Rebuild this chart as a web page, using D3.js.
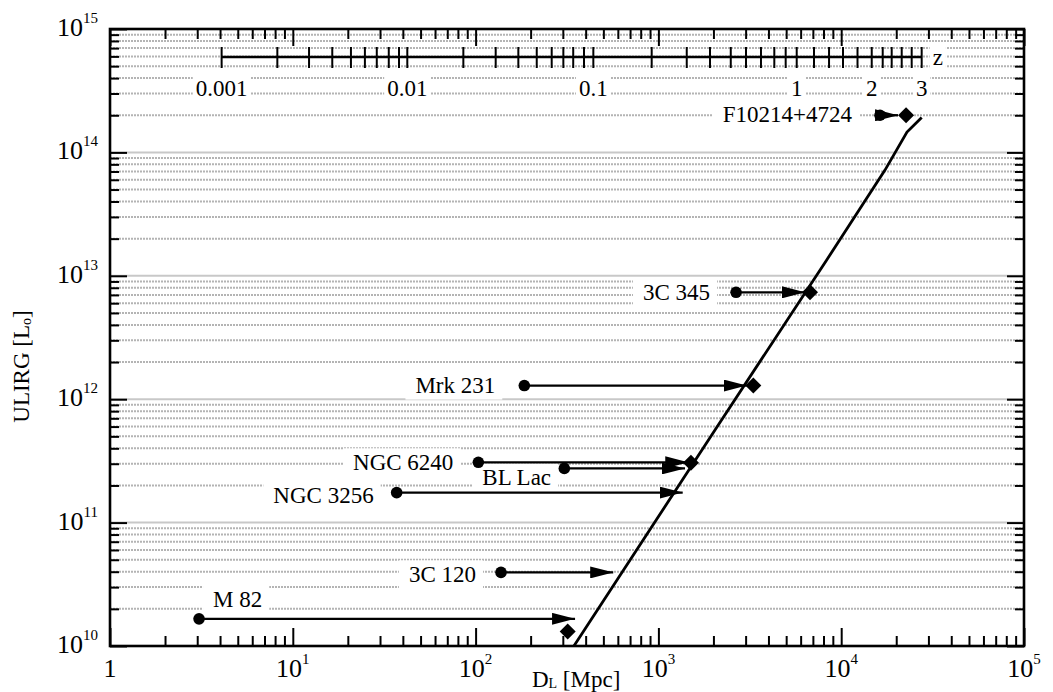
<!DOCTYPE html>
<html>
<head>
<meta charset="utf-8">
<script src="https://cdn.jsdelivr.net/npm/d3@7"></script>
<style>
body { margin: 0; background: #fff; }
svg text { font-family: "Liberation Serif", "Times New Roman", serif; fill: #000; }
</style>
</head>
<body>
<svg id="chart"></svg>
<script>
// objects: observed distance -> distance where they'd still be seen
var names = ['M 82', '3C 120', 'NGC 3256', 'NGC 6240', 'BL Lac', 'Mrk 231', '3C 345', 'F10214+4724'];
var lumObs = [1.66e10, 3.95e10, 1.75e11, 3.08e11, 2.75e11, 1.29e12, 7.35e12, 2.0e14];
var distObs = [3.07, 137.7, 37.0, 103.5, 305.7, 184.7, 2660, 16300];
var distArrow = [350, 566, 1358, 1457, 1398, 3041, 6340, 20460];
var distDiamond = [319, null, null, 1507, null, 3305, 6750, 22630];
var lumDiamond = [1.31e10, null, null, 3.06e11, null, 1.29e12, 7.35e12, 2.0e14];

// detection limit curve
var curveDist = [345, 2040, 8330, 17360, 22900, 27560];
var curveLum = [1.0e10, 5.63e11, 1.343e13, 7.19e13, 1.46e14, 1.92e14];

// redshift ruler (z and the D_L it sits at)
var zTicks = [0.001, 0.002, 0.003, 0.004, 0.005, 0.006, 0.007, 0.008, 0.009,
    0.01, 0.02, 0.03, 0.04, 0.05, 0.06, 0.07, 0.08, 0.09,
    0.1, 0.2, 0.3, 0.4, 0.5, 0.6, 0.7, 0.8, 0.9,
    1.0, 1.2, 1.4, 1.6, 1.8, 2.0, 2.2, 2.4, 2.6, 2.8, 3.0];
var zDist = [4.08, 8.23, 12.27, 16.44, 20.8, 24.8, 28.8, 33.5, 38.1,
    42.3, 85.7, 128.8, 171.3, 216, 260.8, 302, 342, 391.7,
    440.6, 919, 1429, 1915, 2488, 3015, 3640, 4306, 4969,
    5710, 7100, 8580, 10230, 12280, 14690, 16870, 18890, 21430, 24300, 27560];
var zLabels = ['0.001', '0.01', '0.1', '1', '2', '3'];

// label placement relative to the filled circle: [dx, dy, anchor]
var labelLayout = [[14, -12, 'start'], [-25, 10, 'end'], [-23, 10, 'end'], [-25, 8, 'end'],
    [-82, 17, 'start'], [-29, 7, 'end'], [-26, 8, 'end'], [-28, 7, 'end']];

var W = 1053, H = 692;
var margin = { top: 29, right: 29, bottom: 46, left: 110 };
var iw = W - margin.left - margin.right;
var ih = H - margin.top - margin.bottom;

var svg = d3.select('#chart').attr('width', W).attr('height', H);
var g = svg.append('g').attr('transform', `translate(${margin.left},${margin.top})`);

var x = d3.scaleLog().domain([1, 1e5]).range([0, iw]);
var y = d3.scaleLog().domain([1e10, 1e15]).range([ih, 0]);

var xMajor = d3.range(0, 6).map(e => Math.pow(10, e));
var yMajor = d3.range(10, 16).map(e => Math.pow(10, e));
var xMinor = [], yMinor = [];
for (let e = 0; e < 5; e++) for (let m = 2; m < 10; m++) xMinor.push(m * Math.pow(10, e));
for (let e = 10; e < 15; e++) for (let m = 2; m < 10; m++) yMinor.push(m * Math.pow(10, e));

// horizontal grid
var grid = g.append('g');
grid.selectAll('line.minor').data(yMinor).join('line')
    .attr('class', 'minor')
    .attr('x1', 0).attr('x2', iw)
    .attr('y1', d => y(d)).attr('y2', d => y(d))
    .attr('stroke', '#b4b4b4').attr('stroke-width', 2).attr('stroke-dasharray', '2,1');
grid.selectAll('line.major').data(yMajor.slice(1, 5)).join('line')
    .attr('class', 'major')
    .attr('x1', 0).attr('x2', iw)
    .attr('y1', d => y(d)).attr('y2', d => y(d))
    .attr('stroke', '#c8c8c8').attr('stroke-width', 2);

function withBox(sel, padL, padR, padV) {
    sel.each(function () {
        var b = this.getBBox();
        d3.select(this.parentNode).insert('rect', () => this)
            .attr('x', b.x - padL).attr('y', b.y - padV)
            .attr('width', b.width + padL + padR).attr('height', b.height + 2 * padV)
            .attr('fill', '#fff');
    });
}

// redshift ruler
var zY = 28;
var zg = g.append('g');
zg.append('line')
    .attr('x1', x(zDist[0])).attr('x2', x(zDist[zDist.length - 1]))
    .attr('y1', zY).attr('y2', zY)
    .attr('stroke', '#000').attr('stroke-width', 2.5);
zg.selectAll('line.zt').data(zDist).join('line')
    .attr('class', 'zt')
    .attr('x1', d => x(d)).attr('x2', d => x(d))
    .attr('y1', zY - 10).attr('y2', zY + 11)
    .attr('stroke', '#000').attr('stroke-width', 2);
zLabels.forEach(function (lab) {
    var i = zTicks.indexOf(+lab);
    var lg = zg.append('g');
    lg.append('text')
        .attr('x', x(zDist[i])).attr('y', zY + 39)
        .attr('text-anchor', 'middle').attr('font-size', 23)
        .text(lab)
        .call(withBox, 3, 3, 0);
});
var zl = zg.append('g');
zl.append('text')
    .attr('x', x(zDist[zDist.length - 1]) + 11).attr('y', zY + 8)
    .attr('font-size', 23).text('z')
    .call(withBox, 3, 3, 0);

// object labels
var labels = g.append('g');
names.forEach(function (n, i) {
    var lo = labelLayout[i];
    labels.append('g').append('text')
        .attr('x', x(distObs[i]) + lo[0]).attr('y', y(lumObs[i]) + lo[1])
        .attr('text-anchor', lo[2]).attr('font-size', 23)
        .text(n)
        .call(withBox, 10, 7, 2);
});

// limit curve
var curve = curveDist.map((d, i) => [d, curveLum[i]]);
g.append('path')
    .attr('d', d3.line().x(d => x(d[0])).y(d => y(d[1]))(curve))
    .attr('fill', 'none').attr('stroke', '#000').attr('stroke-width', 2.8);

// arrows
svg.append('defs').append('marker')
    .attr('id', 'head').attr('markerUnits', 'userSpaceOnUse')
    .attr('viewBox', '0 -6 23 12').attr('refX', 23).attr('refY', 0)
    .attr('markerWidth', 23).attr('markerHeight', 12).attr('orient', 'auto')
    .append('path').attr('d', 'M0,-6L23,0L0,6Z').attr('fill', '#000');

g.append('g').selectAll('line').data(names).join('line')
    .attr('x1', (d, i) => x(distObs[i])).attr('x2', (d, i) => x(distArrow[i]))
    .attr('y1', (d, i) => y(lumObs[i])).attr('y2', (d, i) => y(lumObs[i]))
    .attr('stroke', '#000').attr('stroke-width', 2.3)
    .attr('marker-end', 'url(#head)');

g.append('g').selectAll('circle').data(names).join('circle')
    .attr('cx', (d, i) => x(distObs[i])).attr('cy', (d, i) => y(lumObs[i]))
    .attr('r', 5.8).attr('fill', '#000');

var diamonds = distDiamond.map((d, i) => [d, lumDiamond[i]]).filter(d => d[0] !== null);
g.append('g').selectAll('path').data(diamonds).join('path')
    .attr('d', d3.symbol(d3.symbolSquare, 128))
    .attr('transform', d => `translate(${x(d[0])},${y(d[1])}) rotate(45)`)
    .attr('fill', '#000');

// axes (ticks point inwards)
function tickAxis(axis, scale, vals, size) {
    return axis(scale).tickValues(vals).tickSize(size).tickSizeOuter(0).tickFormat('');
}
var axes = g.append('g');
[[d3.axisBottom, 'translate(0,' + ih + ')', x, -18, -10],
 [d3.axisTop, 'translate(0,0)', x, -17, -10],
 [d3.axisLeft, 'translate(0,0)', y, -17, -9],
 [d3.axisRight, 'translate(' + iw + ',0)', y, -17, -9]].forEach(function (a) {
    var isX = a[2] === x;
    var maj = axes.append('g').attr('transform', a[1]).call(tickAxis(a[0], a[2], isX ? xMajor : yMajor, a[3]));
    var min = axes.append('g').attr('transform', a[1]).call(tickAxis(a[0], a[2], isX ? xMinor : yMinor, a[4]));
    [maj, min].forEach(s => {
        s.select('.domain').remove();
        s.selectAll('line').attr('stroke', '#000').attr('stroke-width', 2);
    });
});
axes.append('rect')
    .attr('width', iw).attr('height', ih)
    .attr('fill', 'none').attr('stroke', '#000').attr('stroke-width', 2.6);

// tick labels
yMajor.forEach(function (v) {
    var t = axes.append('text')
        .attr('x', -12).attr('y', y(v) + 7)
        .attr('text-anchor', 'end').attr('font-size', 26);
    t.append('tspan').text('10');
    t.append('tspan').attr('dy', -13).attr('font-size', 15).text(Math.round(Math.log10(v)));
});
xMajor.forEach(function (v) {
    var e = Math.round(Math.log10(v));
    var t = axes.append('text')
        .attr('x', x(v)).attr('y', ih + 31)
        .attr('text-anchor', 'middle').attr('font-size', 26);
    if (e === 0) { t.text('1'); return; }
    t.append('tspan').text('10');
    t.append('tspan').attr('dy', -13).attr('font-size', 15).text(e);
});

// axis titles
var xt = axes.append('text')
    .attr('x', x(10 ** 2.55)).attr('y', ih + 41)
    .attr('text-anchor', 'middle').attr('font-size', 23);
xt.append('tspan').text('D');
xt.append('tspan').attr('font-size', 14).attr('dy', 1).text('L');
xt.append('tspan').attr('dy', -1).text(' [Mpc]');

var yt = axes.append('text')
    .attr('transform', `translate(${-81},${ih / 2 + 29}) rotate(-90)`)
    .attr('text-anchor', 'middle').attr('font-size', 23);
yt.append('tspan').text('ULIRG [L');
yt.append('tspan').attr('font-size', 14).attr('dy', 2).text('o');
yt.append('tspan').attr('dy', -2).text(']');
</script>
</body>
</html>
